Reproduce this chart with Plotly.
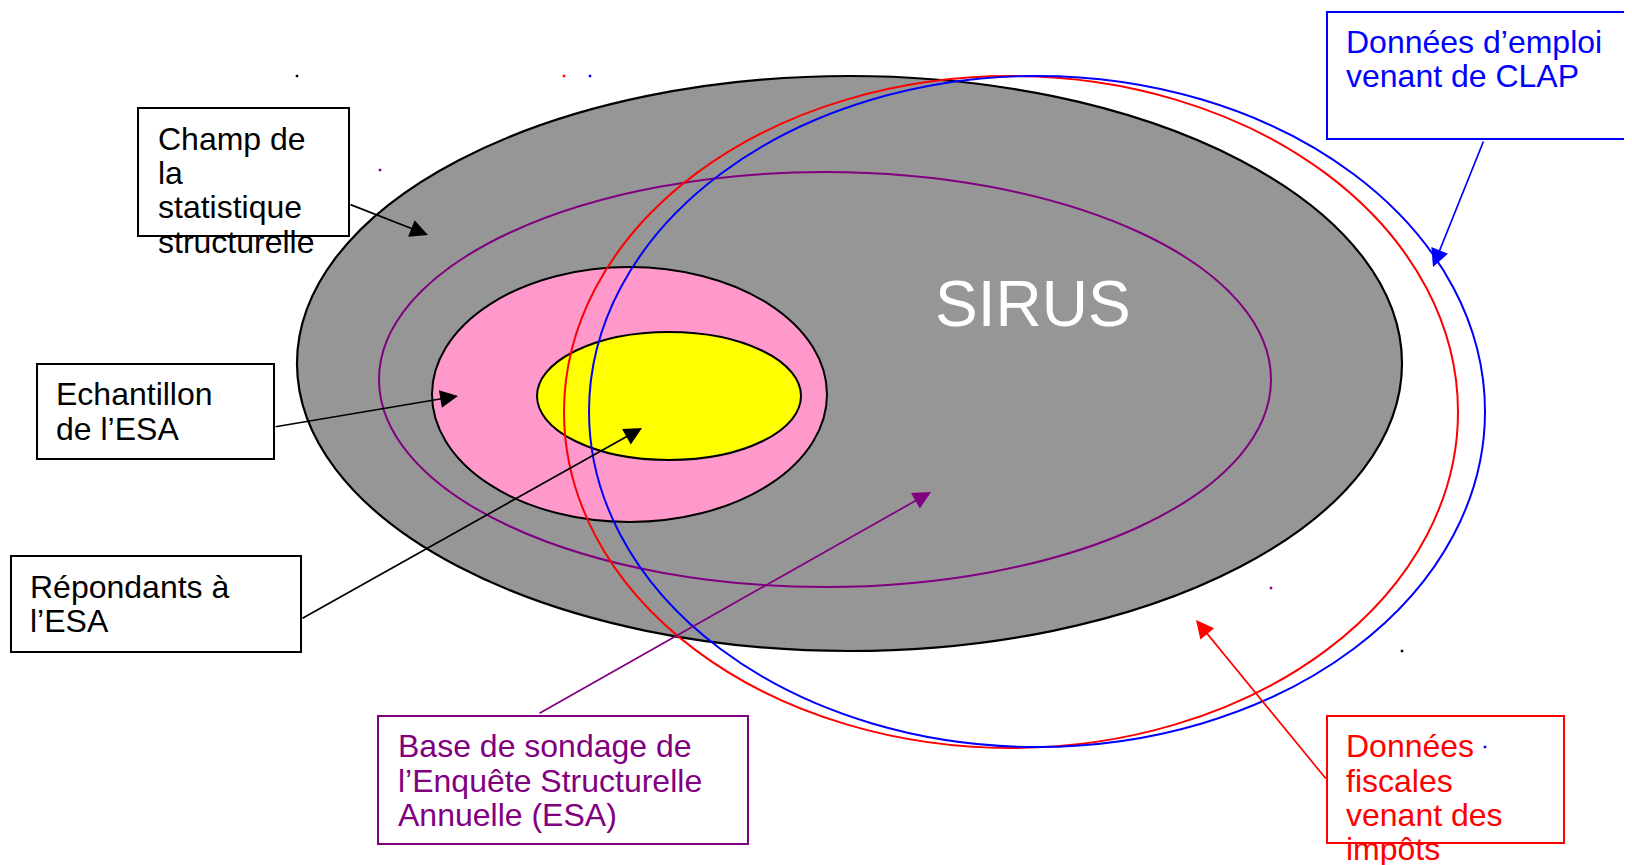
import plotly.graph_objects as go

W, H = 1632, 865
OFF = 8  # default page margin of the browser body

# ---- Ellipses (bounding boxes in pixel coordinates) ----
ellipse_names = ["SIRUS", "Base ESA", "Echantillon", "Répondants", "Fiscal", "CLAP"]
ellipse_x0 = [297, 379, 432, 537, 564, 589]
ellipse_y0 = [76, 172, 267, 332, 76, 76]
ellipse_x1 = [1402, 1271, 827, 801, 1458, 1485]
ellipse_y1 = [651, 587, 522, 460, 748, 747]
ellipse_fill = ["#969696", "rgba(0,0,0,0)", "#FF99CC", "#FFFF00", "rgba(0,0,0,0)", "rgba(0,0,0,0)"]
ellipse_line = ["#000000", "#800080", "#000000", "#000000", "#FF0000", "#0000FF"]
ellipse_width = [2.2, 2, 2, 2, 2, 2]

# ---- Label boxes ----
box_x0 = [138, 37, 11, 378, 1327, 1327]
box_y0 = [108, 364, 556, 716, 12, 716]
box_x1 = [349, 274, 301, 748, 1636, 1564]
box_y1 = [236, 459, 652, 844, 139, 843]
box_color = ["#000000", "#000000", "#000000", "#800080", "#0000FF", "#FF0000"]

# ---- Label text lines ----
label_lines = [
    ["Champ de", "la", "statistique", "structurelle"],
    ["Echantillon", "de l\u2019ESA"],
    ["Répondants à", "l\u2019ESA"],
    ["Base de sondage de", "l\u2019Enquête Structurelle", "Annuelle (ESA)"],
    ["Données d\u2019emploi", "venant de CLAP"],
    ["Données", "fiscales", "venant des", "impôts"],
]
label_x = [156, 54, 28, 396, 1344, 1344]
label_baselines = [
    [150, 184, 218, 253],
    [405, 440],
    [598, 632],
    [757, 792, 826],
    [53, 87],
    [757, 792, 826, 860],
]

# ---- Arrows (tail -> head) ----
arrow_tail_x = [349, 274, 301, 538, 1484, 1327]
arrow_tail_y = [204, 427, 619, 714, 140, 780]
arrow_head_x = [428, 458, 642, 931, 1433, 1196]
arrow_head_y = [235, 396, 428, 492, 267, 620]
arrow_color = ["#000000", "#000000", "#000000", "#800080", "#0000FF", "#FF0000"]

# ---- Small corner dots (artifacts of the drawing) ----
dot_x = [297, 564, 590, 380, 433, 537, 827, 1271, 1402, 1485]
dot_y = [76, 76, 76, 170, 268, 333, 523, 588, 651, 747]
dot_color = ["#000000", "#FF0000", "#0000FF", "#800080", "#000000", "#000000",
             "#000000", "#800080", "#000000", "#0000FF"]

center_label = "SIRUS"
center_x, center_y = 1033, 326

FONT = "Arial, 'Liberation Sans', Helvetica, sans-serif"
FS = 32

fig = go.Figure()

shapes = []
for i in range(len(ellipse_names)):
    shapes.append(dict(type="circle", xref="x", yref="y",
                       x0=ellipse_x0[i], y0=ellipse_y0[i], x1=ellipse_x1[i], y1=ellipse_y1[i],
                       fillcolor=ellipse_fill[i],
                       line=dict(color=ellipse_line[i], width=ellipse_width[i]),
                       layer="above"))
for i in range(len(box_x0)):
    shapes.append(dict(type="rect", xref="x", yref="y",
                       x0=box_x0[i], y0=box_y0[i], x1=box_x1[i], y1=box_y1[i],
                       fillcolor="rgba(0,0,0,0)",
                       line=dict(color=box_color[i], width=2),
                       layer="above"))

annotations = []
for i in range(len(arrow_tail_x)):
    annotations.append(dict(x=arrow_head_x[i], y=arrow_head_y[i], xref="x", yref="y",
                            ax=arrow_tail_x[i], ay=arrow_tail_y[i], axref="x", ayref="y",
                            text="", showarrow=True, arrowhead=2, arrowsize=2.1,
                            arrowwidth=1.7, arrowcolor=arrow_color[i], standoff=0,
                            startstandoff=0))

for i, lines in enumerate(label_lines):
    for j, line in enumerate(lines):
        annotations.append(dict(x=label_x[i], y=label_baselines[i][j] - 11, xref="x", yref="y",
                                text=line, showarrow=False, xanchor="left", yanchor="middle",
                                font=dict(family=FONT, size=FS, color=box_color[i])))

annotations.append(dict(x=center_x, y=center_y - 22, xref="x", yref="y", text=center_label,
                        showarrow=False, xanchor="center", yanchor="middle",
                        font=dict(family=FONT, size=64, color="#FFFFFF")))

fig.add_trace(go.Scatter(x=dot_x, y=dot_y, mode="markers",
                         marker=dict(size=2.5, color=dot_color, symbol="square", line=dict(width=0)),
                         hoverinfo="skip", showlegend=False))

fig.update_layout(
    width=W, height=H,
    margin=dict(l=0, r=0, t=0, b=0),
    paper_bgcolor="white", plot_bgcolor="white",
    xaxis=dict(range=[OFF, W + OFF], visible=False, fixedrange=True),
    yaxis=dict(range=[H + OFF, OFF], visible=False, fixedrange=True),
    shapes=shapes, annotations=annotations, showlegend=False,
)

fig.write_html("out.html", config={"displayModeBar": False})
